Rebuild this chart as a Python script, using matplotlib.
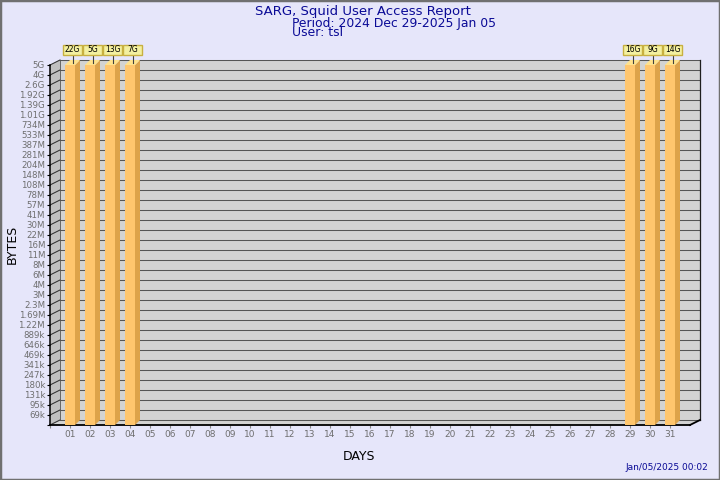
import numpy as np
import matplotlib
matplotlib.use("Agg")
import matplotlib.pyplot as plt
from matplotlib.patches import Rectangle, Polygon

# ---- data ----
days = ["%02d" % d for d in range(1, 32)]
bar_days = ["01", "02", "03", "04", "29", "30", "31"]
bar_values_gb = [22, 5, 13, 7, 16, 9, 14]
bar_labels = ["22G", "5G", "13G", "7G", "16G", "9G", "14G"]
ytick_labels = ["69k", "95k", "131k", "180k", "247k", "341k", "469k", "646k", "889k",
                "1.22M", "1.69M", "2.3M", "3M", "4M", "6M", "8M", "11M", "16M", "22M",
                "30M", "41M", "57M", "78M", "108M", "148M", "204M", "281M", "387M",
                "533M", "734M", "1.01G", "1.39G", "1.92G", "2.6G", "4G", "5G"]

title = "SARG, Squid User Access Report"
period = "Period: 2024 Dec 29-2025 Jan 05"
user = "User: tsl"
stamp = "Jan/05/2025 00:02"

# ---- helpers ----
mult = {"k": 1e3, "M": 1e6, "G": 1e9}
tick_vals = np.array([float(s[:-1]) * mult[s[-1]] for s in ytick_labels])
levels = np.arange(1, len(ytick_labels) + 1)
ntop = len(ytick_labels)


def level_of(v):
    return float(np.clip(np.interp(np.log(v), np.log(tick_vals), levels), 0, ntop))


BG = "#e6e6fa"
WALL = "#d3d3d3"
SIDEWALL = "#c0c0c0"
GRID = "#555555"
FRONT = "#ffc66e"
SIDE = "#dda34a"
TOP = "#ffe28c"
TXT = "#6e6e6e"
NAVY = "#0a0a96"

fig = plt.figure(figsize=(7.2, 4.8), dpi=100, facecolor=BG)
fig.patches.append(Rectangle((0, 0), 1, 1, transform=fig.transFigure, fill=False,
                             edgecolor="#707070", linewidth=2.5, zorder=10))

ax = fig.add_axes([50 / 720, 55 / 480, 640 / 720, 360 / 480])
ax.set_xlim(0, 32)
ax.set_ylim(0, ntop)
ax.patch.set_visible(False)
for s in ["top", "right"]:
    ax.spines[s].set_visible(False)
ax.spines["left"].set_color("black")
ax.spines["left"].set_linewidth(1.1)
ax.spines["bottom"].set_color("black")
ax.spines["bottom"].set_linewidth(1.3)
ax.spines["left"].set_zorder(2.6)

D = 0.5  # wall depth in data units (10px right, 5px up)

# walls
ax.add_patch(Rectangle((D, D), 32, ntop, facecolor=WALL, edgecolor="none", zorder=0.5, clip_on=False))
ax.add_patch(Polygon([(0, 0), (0, ntop), (D, ntop + D), (D, D)], closed=True,
                     facecolor=SIDEWALL, edgecolor="none", zorder=0.6, clip_on=False))
ax.add_patch(Polygon([(0, 0), (32, 0), (32 + D, D), (D, D)], closed=True,
                     facecolor=WALL, edgecolor="none", zorder=0.6, clip_on=False))
# grid lines on back wall + diagonal on side wall
for lv in np.arange(0, ntop + 1):
    ax.plot([D, 32 + D], [lv + D, lv + D], color=GRID, lw=0.75, zorder=1, clip_on=False)
    ax.plot([0, D], [lv, lv + D], color="#303030", lw=0.75, zorder=1, clip_on=False)
ax.plot([D, D], [D, ntop + D], color="#555555", lw=0.6, zorder=1, clip_on=False)
ax.plot([32 + D, 32 + D], [D, ntop + D], color="#202020", lw=0.9, zorder=1, clip_on=False)
ax.plot([32, 32 + D], [0, D], color="black", lw=1.3, zorder=2.6, clip_on=False)

# ticks
xpos = np.arange(1, len(days) + 1)
ax.set_xticks(np.concatenate([[0], xpos]))
ax.set_xticklabels([""] + days, fontsize=6.5, color=TXT)
ax.tick_params(axis="x", length=2.5, width=0.8, color="#888888", pad=0.8)
ax.set_yticks(np.concatenate([[0], levels]))
ax.set_yticklabels([""] + ytick_labels, fontsize=6.2, color=TXT)
ax.tick_params(axis="y", length=2.3, width=0.8, color="black", pad=1.2)

# bars
for d, v, lab in zip(bar_days, bar_values_gb, bar_labels):
    xc = days.index(d) + 1
    h = level_of(v * 1e9)
    ax.add_patch(Rectangle((xc - 0.25, 0), 0.5, h, facecolor=FRONT, edgecolor="none",
                           zorder=3, clip_on=False))
    ax.add_patch(Polygon([(xc + 0.25, 0), (xc + 0.5, 0.5), (xc + 0.5, h + 0.5), (xc + 0.25, h)],
                         closed=True, facecolor=SIDE, edgecolor="none", zorder=3, clip_on=False))
    ax.add_patch(Polygon([(xc - 0.25, h), (xc + 0.25, h), (xc + 0.5, h + 0.5), (xc, h + 0.5)],
                         closed=True, facecolor=TOP, edgecolor="none", zorder=3, clip_on=False))
    lx = xc + 0.125
    ax.plot([lx, lx], [h + 0.25, ntop + 1], color="#404040", lw=0.8, zorder=4, clip_on=False)
    ax.add_patch(Rectangle((lx - 0.475, ntop + 1), 0.95, 1.0, facecolor="#f3f0a0",
                           edgecolor="#c8b040", lw=1.0, zorder=5, clip_on=False))
    ax.text(lx, ntop + 1.5, lab, ha="center", va="center", fontsize=5.5, color="black",
            zorder=6, clip_on=False)

# texts
fig.text(362.5 / 720, 1 - 15.5 / 480, title, ha="center", va="baseline", fontsize=9.5, color=NAVY)
fig.text(292 / 720, 1 - 26.7 / 480, period, ha="left", va="baseline", fontsize=8.9, color=NAVY)
fig.text(292 / 720, 1 - 36.5 / 480, user, ha="left", va="baseline", fontsize=8.9, color=NAVY)
fig.text(12 / 720, 1 - 244 / 480, "BYTES", rotation=90, ha="center", va="center", fontsize=9, color="black")
fig.text(359 / 720, 1 - 456 / 480, "DAYS", ha="center", va="center", fontsize=9, color="black")
fig.text(708 / 720, 1 - 467 / 480, stamp, ha="right", va="center", fontsize=6.5, color=NAVY)

fig.savefig("out.png", dpi=100, facecolor=BG)
